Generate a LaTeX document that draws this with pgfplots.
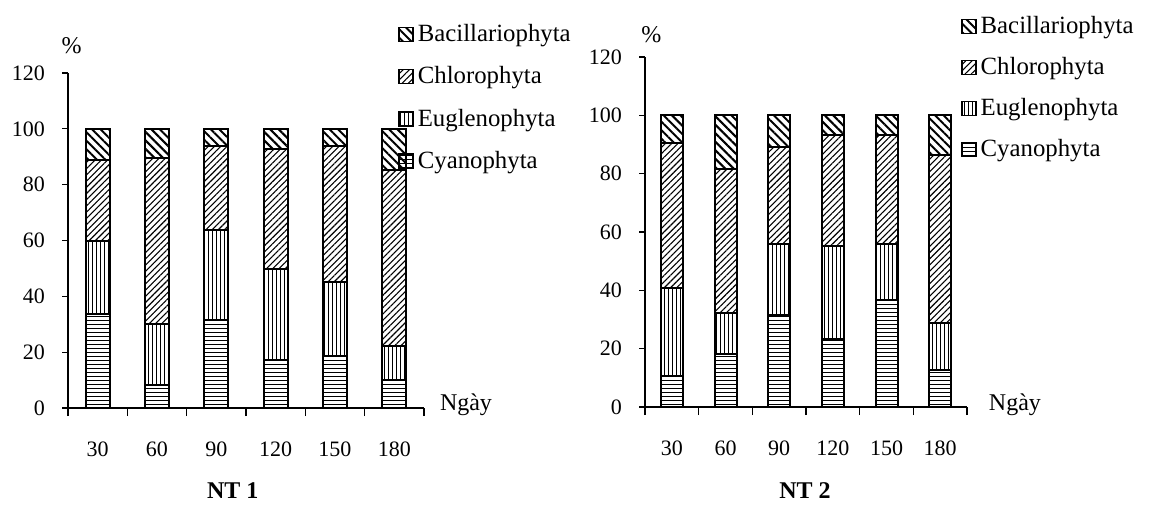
\documentclass[border=0pt]{standalone}
\usepackage{fontspec}
\setmainfont{Liberation Serif}
\usepackage{pgfplots}
\usepackage{pgfplotstable}
\pgfplotsset{compat=1.18}
\usetikzlibrary{patterns.meta}

\pgfplotstableread{
x cya eug chl bac
1 33.7 26.0 29.1 11.2
2 8.1 22.1 59.2 10.6
3 31.4 32.5 29.9 6.2
4 17.2 32.6 43.0 7.2
5 18.5 26.5 48.8 6.2
6 10.2 11.9 63.1 14.8
}\ntone

\pgfplotstableread{
x cya eug chl bac
1 10.5 30.4 49.6 9.5
2 18.1 14.2 49.4 18.3
3 31.7 24.3 33.1 10.9
4 23.4 31.9 37.8 6.9
5 36.8 19.2 37.1 6.9
6 12.6 16.3 57.6 13.5
}\nttwo

\pgfplotsset{
  myleg/.style={legend image code/.code={\draw[##1, line width=0.7pt] (0pt,-3.5pt) rectangle (7pt,3.5pt);}},
  pcya/.style={draw=black, line width=1pt, pattern={Lines[angle=0,distance=2pt,line width=0.5pt]}, myleg},
  peug/.style={draw=black, line width=1pt, pattern={Lines[angle=90,distance=2pt,line width=0.5pt]}, myleg},
  pchl/.style={draw=black, line width=1pt, pattern={Lines[angle=45,distance=2.2pt,line width=0.55pt]}, myleg},
  pbac/.style={draw=black, line width=1pt, pattern={Lines[angle=-45,distance=3pt,line width=1pt]}, myleg},
  algae/.style={
    scale only axis, ybar stacked, axis lines=left,
    axis line style={-, line width=0.7pt},
    xmin=0.5, xmax=6.5, ymin=0, ymax=120,
    xtick={1,...,6}, xticklabels={30,60,90,120,150,180},
    minor xtick={0.5,1.5,...,6.5},
    ytick={0,20,...,120},
    tick align=outside,
    major x tick style={draw=none},
    minor tick length=4pt, major tick length=3pt,
    tick style={black, line width=0.6pt},
    /pgf/number format/assume math mode=true,
    ticklabel style={font=\fontsize{11}{13}\selectfont},
    xticklabel style={yshift=-10.5pt},
    yticklabel style={xshift=-5pt},
    enlargelimits=false,
    reverse legend,
    legend style={draw=none, fill=none, font=\fontsize{12.4}{14}\selectfont,
      anchor=north west, cells={anchor=west}, row sep=7pt, inner sep=0pt},
    myleg,
    ylabel={\%}, xlabel={Ngày},
    label style={font=\fontsize{12}{14}\selectfont},
  }
}

\begin{document}
\begin{tikzpicture}
\useasboundingbox (0,0) rectangle (578pt,252pt);

\begin{axis}[algae, at={(34pt,48pt)}, anchor=south west, width=178pt, height=167.5pt,
  bar width=12pt,
  ylabel style={rotate=-90, at={(axis description cs:0.01,1.083)}, anchor=center},
  xlabel style={at={(axis description cs:1.118,0.01)}, anchor=center},
  title={NT 1}, title style={at={(axis description cs:0.463,-0.282)}, anchor=center, font=\bfseries\fontsize{12}{14}\selectfont},
  legend style={at={(axis description cs:0.927,1.158)}}]
\addplot[pcya] table[x=x,y=cya]{\ntone};
\addplot[peug] table[x=x,y=eug]{\ntone};
\addplot[pchl] table[x=x,y=chl]{\ntone};
\addplot[pbac] table[x=x,y=bac]{\ntone};
\legend{Cyanophyta,Euglenophyta,Chlorophyta,Bacillariophyta}
\end{axis}

\begin{axis}[algae, at={(322.5pt,48.5pt)}, anchor=south west, width=161pt, height=175pt,
  bar width=11pt,
  ylabel style={rotate=-90, at={(axis description cs:0.02,1.063)}, anchor=center},
  xlabel style={at={(axis description cs:1.149,0.006)}, anchor=center},
  title={NT 2}, title style={at={(axis description cs:0.497,-0.272)}, anchor=center, font=\bfseries\fontsize{12}{14}\selectfont},
  legend style={at={(axis description cs:0.981,1.128)}, row sep=6.4pt}]
\addplot[pcya] table[x=x,y=cya]{\nttwo};
\addplot[peug] table[x=x,y=eug]{\nttwo};
\addplot[pchl] table[x=x,y=chl]{\nttwo};
\addplot[pbac] table[x=x,y=bac]{\nttwo};
\legend{Cyanophyta,Euglenophyta,Chlorophyta,Bacillariophyta}
\end{axis}
\end{tikzpicture}
\end{document}
